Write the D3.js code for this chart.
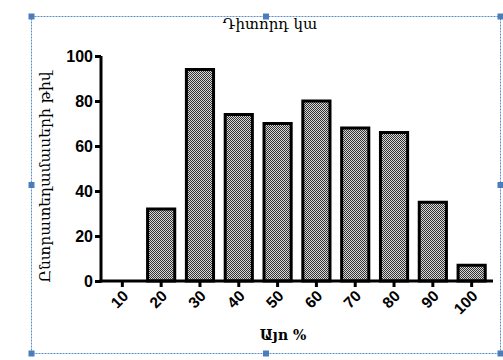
<!DOCTYPE html>
<html>
<head>
<meta charset="utf-8">
<script src="https://cdn.jsdelivr.net/npm/d3@7"></script>
<style>
  body { margin: 0; background: #fff; }
  svg { display: block; }
</style>
</head>
<body>
<div id="chart"></div>
<script>
// data
const categories = ["10", "20", "30", "40", "50", "60", "70", "80", "90", "100"];
const counts = [0, 32, 94, 74, 70, 80, 68, 66, 35, 7];
const yTicks = [0, 20, 40, 60, 80, 100];

const titleText = "Դիտորդ կա";
const xLabel = "Այո %";
const yLabel = "Ընտրատեղամասերի թիվ";

const svgWidth = 503;
const svgHeight = 360;
const margin = { top: 56, right: 10, bottom: 79, left: 101 };

const svg = d3.select("#chart")
    .append("svg")
    .attr("width", svgWidth)
    .attr("height", svgHeight);

// checker fill for the bars
const defs = svg.append("defs");
const pat = defs.append("pattern")
    .attr("id", "checker")
    .attr("patternUnits", "userSpaceOnUse")
    .attr("width", 2)
    .attr("height", 2);
pat.append("rect").attr("width", 2).attr("height", 2).attr("fill", "#d8d8d8");
pat.append("rect").attr("width", 1).attr("height", 1).attr("fill", "#333");
pat.append("rect").attr("x", 1).attr("y", 1).attr("width", 1).attr("height", 1).attr("fill", "#333");

// scales
const xScale = d3.scaleBand()
    .domain(categories)
    .range([margin.left, 493])
    .paddingInner(0.3)
    .paddingOuter(0.2);

const yScale = d3.scaleLinear()
    .domain([0, 100])
    .range([281, margin.top]);

// bars
svg.selectAll(".bar")
    .data(categories)
    .enter()
    .append("rect")
    .attr("class", "bar")
    .attr("x", d => xScale(d))
    .attr("width", xScale.bandwidth())
    .attr("y", (d, i) => yScale(counts[i]))
    .attr("height", (d, i) => yScale(0) - yScale(counts[i]))
    .attr("fill", "url(#checker)")
    .attr("stroke", "#000")
    .attr("stroke-width", 3)
    .style("display", (d, i) => counts[i] > 0 ? null : "none");

// y axis
const yAxis = svg.append("g")
    .attr("transform", `translate(${margin.left},0)`)
    .call(d3.axisLeft(yScale).tickValues(yTicks).tickSize(6).tickPadding(2));
yAxis.select(".domain").attr("stroke-width", 3).attr("d", `M0,${yScale(100)}V${yScale(0) + 1.5}`);
yAxis.selectAll(".tick line").attr("stroke-width", 3);
yAxis.selectAll("text")
    .style("font-family", "Liberation Sans, Arial, sans-serif")
    .style("font-size", "16px")
    .style("font-weight", "bold")
    .attr("fill", "#000");

// x axis
const xAxis = svg.append("g")
    .attr("transform", `translate(0,${yScale(0)})`)
    .call(d3.axisBottom(xScale).tickSize(6).tickSizeOuter(0));
xAxis.select(".domain").attr("stroke-width", 3).attr("d", `M${margin.left - 1.5},0H493`);
xAxis.selectAll(".tick line").attr("stroke-width", 3);
xAxis.selectAll("text")
    .style("font-family", "Liberation Sans, Arial, sans-serif")
    .style("font-size", "15.5px")
    .style("font-weight", "bold")
    .attr("fill", "#000")
    .attr("text-anchor", "end")
    .attr("dy", null)
    .attr("y", 0)
    .attr("x", 0)
    .attr("transform", "translate(7,16) rotate(-45)");

// title and axis labels
svg.append("text")
    .attr("x", 270)
    .attr("y", 29)
    .attr("text-anchor", "middle")
    .style("font-family", "DejaVu Serif, serif")
    .style("font-size", "15px")
    .text(titleText);

svg.append("text")
    .attr("x", 283)
    .attr("y", 340)
    .attr("text-anchor", "middle")
    .style("font-family", "DejaVu Serif, serif")
    .style("font-size", "14px")
    .style("font-weight", "bold")
    .text(xLabel);

svg.append("text")
    .attr("transform", "translate(50,177) rotate(-90)")
    .attr("text-anchor", "middle")
    .style("font-family", "DejaVu Serif, serif")
    .style("font-size", "15.5px")
    .text(yLabel);

// selection frame with handles
const frame = { x0: 31, y0: 16, x1: 500, y1: 353 };
svg.append("rect")
    .attr("x", frame.x0 + 0.5)
    .attr("y", frame.y0 + 0.5)
    .attr("width", frame.x1 - frame.x0)
    .attr("height", frame.y1 - frame.y0)
    .attr("fill", "none")
    .attr("stroke", "#5b8bd0")
    .attr("stroke-dasharray", "2 1");

const midX = (frame.x0 + frame.x1) / 2;
const midY = (frame.y0 + frame.y1) / 2;
const handles = [
    [frame.x0, frame.y0], [midX, frame.y0], [frame.x1, frame.y0],
    [frame.x0, midY], [frame.x1, midY],
    [frame.x0, frame.y1], [midX, frame.y1], [frame.x1, frame.y1]
];
svg.selectAll(".handle")
    .data(handles)
    .enter()
    .append("rect")
    .attr("class", "handle")
    .attr("x", d => d[0] - 2.5)
    .attr("y", d => d[1] - 2.5)
    .attr("width", 6)
    .attr("height", 6)
    .attr("fill", "#4a7ebb");
</script>
</body>
</html>
